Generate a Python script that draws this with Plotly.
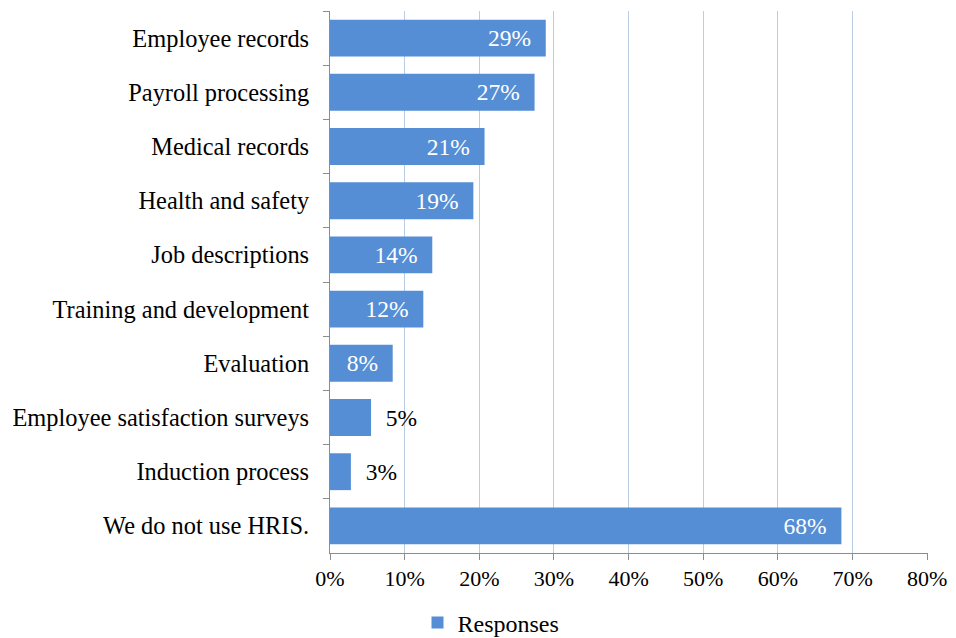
import plotly.graph_objects as go

categories = ["Employee records", "Payroll processing", "Medical records", "Health and safety",
              "Job descriptions", "Training and development", "Evaluation",
              "Employee satisfaction surveys", "Induction process", "We do not use HRIS."]
values = [28.9, 27.4, 20.7, 19.2, 13.7, 12.5, 8.4, 5.5, 2.8, 68.5]
labels = ["29%", "27%", "21%", "19%", "14%", "12%", "8%", "5%", "3%", "68%"]
inside = [True, True, True, True, True, True, True, False, False, True]
tickvals = [0, 10, 20, 30, 40, 50, 60, 70, 80]
ticktext = ["0%", "10%", "20%", "30%", "40%", "50%", "60%", "70%", "80%"]

NB = "\u00a0"
disp = [(l + NB * 2) if ins else (NB * 2 + l) for l, ins in zip(labels, inside)]
positions = ["inside" if ins else "outside" for ins in inside]
colors = ["white" if ins else "black" for ins in inside]

FONT = "Liberation Serif, Times New Roman, serif"

fig = go.Figure(go.Bar(
    y=categories, x=values, orientation="h", name="Responses",
    marker=dict(color="#558ED5", line=dict(width=0)),
    text=disp, textposition=positions, insidetextanchor="end",
    textfont=dict(family=FONT, size=23.5, color=colors),
    constraintext="none", cliponaxis=False,
))

# page body has an 8px margin, so the figure sits at (8, 8)
W, H = 940, 630
fig.update_layout(
    width=W, height=H,
    margin=dict(l=322, r=20, t=3, b=85, autoexpand=False),
    plot_bgcolor="white", paper_bgcolor="white",
    font=dict(family=FONT, size=22, color="black"),
    bargap=0.32,
    showlegend=True,
    legend=dict(orientation="h", xref="container", x=(491 - 8) / W, xanchor="center",
                yref="container", y=15 / H, yanchor="middle",
                font=dict(family=FONT, size=24, color="black")),
    xaxis=dict(range=[0, 80.1], tickvals=tickvals, ticktext=ticktext,
               showgrid=True, gridcolor="#B9CDE5", gridwidth=1,
               showline=True, linecolor="#8C8C8C", linewidth=1,
               ticks="outside", ticklen=6, tickcolor="#8C8C8C",
               ticklabelstandoff=0, automargin=False, ticklabeloverflow="allow",
               zeroline=False, tickfont=dict(size=22)),
    yaxis=dict(autorange="reversed", showline=True, linecolor="#8C8C8C", linewidth=1,
               ticks="outside", ticklen=6, tickcolor="#8C8C8C", tickson="boundaries",
               ticklabelstandoff=15, showgrid=False, automargin=False,
               tickfont=dict(size=24.4)),
)

fig.write_html("out.html")
